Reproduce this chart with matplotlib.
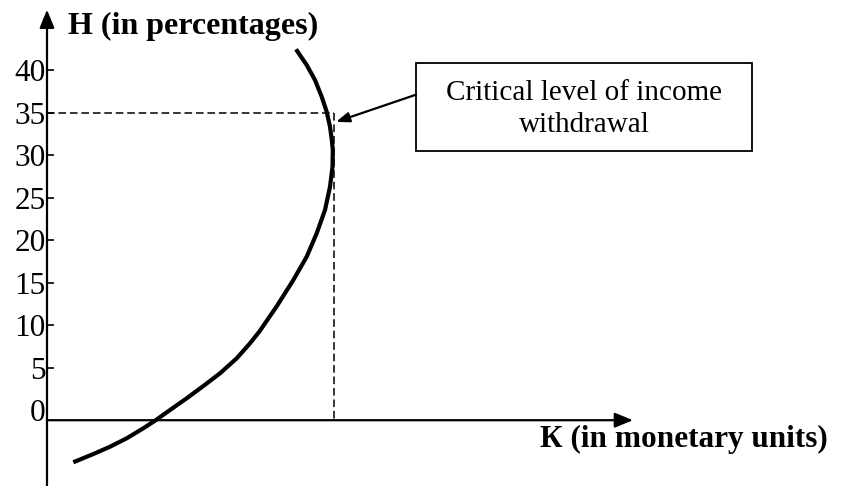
import matplotlib.pyplot as plt
from matplotlib.patches import Rectangle

plt.rcParams['font.family'] = ['Liberation Serif', 'DejaVu Serif']

# curve (K in monetary units, H in percent)
k_vals = [2.63, 4.63, 6.30, 7.97, 9.63, 10.80, 12.30, 13.97, 15.63, 17.30,
          18.97, 20.30, 21.23, 22.97, 24.63, 25.97, 26.97, 27.80, 28.30, 28.55,
          28.58, 28.50, 28.30, 27.97, 27.47, 26.80, 25.97, 24.90]
h_vals = [-6.15, -5.18, -4.32, -3.33, -2.15, -1.26, 0.00, 1.38, 2.82, 4.32,
          6.08, 7.85, 9.22, 12.20, 15.29, 18.04, 20.79, 23.53, 26.27, 28.62,
          30.59, 31.60, 33.33, 35.09, 36.86, 38.82, 40.59, 42.44]

y_ticks = [0, 5, 10, 15, 20, 25, 30, 35, 40]
y_labels = ['0', '5', '10', '15', '20', '25', '30', '35', '40']

crit_h = 35
crit_k = 28.7
x_axis_h = -1.2

fig = plt.figure(figsize=(8.43, 4.86), dpi=100)
ax = fig.add_axes([0, 0, 1, 1])
ax.set_xlim(-4.7, 79.6)
ax.set_ylim(-8.94, 48.24)

# axes drawn as arrows
for s in ['top', 'right', 'bottom']:
    ax.spines[s].set_visible(False)
ax.spines['left'].set_position(('data', 0))
ax.spines['left'].set_visible(False)
ax.annotate('', xy=(0, 47.1), xytext=(0, -8.94),
            arrowprops=dict(arrowstyle='-|>,head_length=1.1,head_width=0.45',
                            lw=1.6, color='black', shrinkA=0, shrinkB=0))
ax.annotate('', xy=(58.6, x_axis_h), xytext=(0, x_axis_h),
            arrowprops=dict(arrowstyle='-|>,head_length=1.1,head_width=0.45',
                            lw=1.6, color='black', shrinkA=0, shrinkB=0))

ax.set_xticks([])
ax.set_yticks(y_ticks)
ax.set_yticklabels(y_labels, fontsize=22.5)
ax.tick_params(axis='y', direction='in', length=5, width=1.2, pad=1)
ax.yaxis.get_major_ticks()[0].tick1line.set_visible(False)

# curve
ax.plot(k_vals, h_vals, color='black', lw=3.0, solid_capstyle='butt',
        solid_joinstyle='round')

# dashed guide lines
ax.plot([0, crit_k], [crit_h, crit_h], color='black', lw=1.1, dashes=(5, 2.5))
ax.plot([crit_k, crit_k], [crit_h, x_axis_h], color='black', lw=1.1, dashes=(5, 2.5))

# callout box
ax.add_patch(Rectangle((36.9, 30.5), 33.6, 10.3, fill=False, lw=1.3, ec='black'))
ax.text(53.7, 35.4, 'Critical level of income\nwithdrawal', ha='center', va='center',
        fontsize=21, linespacing=1.3)
ax.annotate('', xy=(28.9, 33.9), xytext=(36.9, 37.1),
            arrowprops=dict(arrowstyle='-|>,head_length=0.8,head_width=0.3',
                            lw=1.6, color='black', shrinkA=0, shrinkB=0))

# axis titles
ax.text(2.1, 45.1, 'H (in percentages)', fontsize=23, fontweight='bold',
        ha='left', va='center')
ax.text(78.1, -3.5, 'К (in monetary units)', fontsize=22.5, fontweight='bold',
        ha='right', va='center')

fig.savefig('out.png', dpi=100)
